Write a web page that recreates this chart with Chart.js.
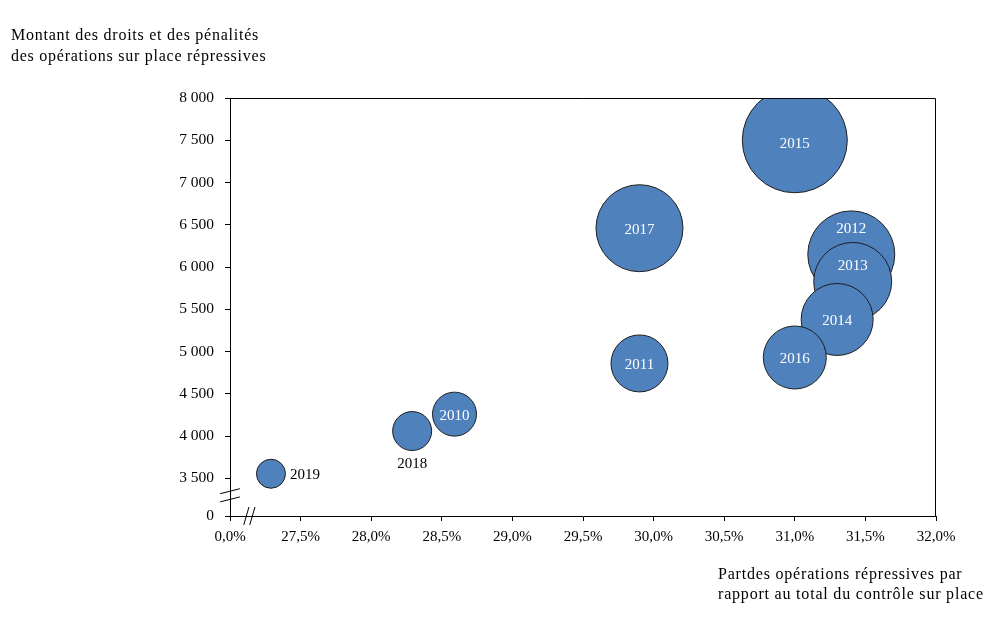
<!DOCTYPE html>
<html lang="fr">
<head>
<meta charset="utf-8">
<script src="https://cdn.jsdelivr.net/npm/chart.js@4.4.1/dist/chart.umd.min.js"></script>
<style>
  html, body { margin: 0; padding: 0; background: #fff; }
  #wrap { width: 1004px; height: 623px; position: relative; }
</style>
</head>
<body>
<div id="wrap"><canvas id="bubbleChart"></canvas></div>
<script>
// Bubble chart: part des opérations répressives vs montant des droits et pénalités

var years = [2010, 2011, 2012, 2013, 2014, 2015, 2016, 2017, 2018, 2019];
var partRepressive = [28.59, 29.9, 31.4, 31.41, 31.3, 31.0, 31.0, 29.9, 28.29, 27.29];
var montant = [4260, 4860, 6150, 5830, 5380, 7500, 4930, 6460, 4060, 3555];
var bubbleSize = [22, 28.5, 43.5, 39, 36, 52.5, 31.5, 43.5, 19.5, 14.5];

// axes are broken: the first tick stands for 0
var xTickValues = [27.0, 27.5, 28.0, 28.5, 29.0, 29.5, 30.0, 30.5, 31.0, 31.5, 32.0];
var xTickLabels = ["0,0%", "27,5%", "28,0%", "28,5%", "29,0%", "29,5%", "30,0%", "30,5%", "31,0%", "31,5%", "32,0%"];
var yTickValues = [3055, 3500, 4000, 4500, 5000, 5500, 6000, 6500, 7000, 7500, 8000];
var yTickLabels = ["0", "3 500", "4 000", "4 500", "5 000", "5 500", "6 000", "6 500", "7 000", "7 500", "8 000"];

var yTitle = ["Montant des droits et des pénalités", "des opérations sur place répressives"];
var xTitle = ["Partdes opérations répressives par", "rapport au total du contrôle sur place"];

var serif = '"Liberation Serif", "Times New Roman", serif';

// where each year label sits relative to its bubble
var labelPlacement = {
    2012: { dx: 0, dy: -25, color: "#fff", align: "center" },
    2013: { dx: 0, dy: -15, color: "#fff", align: "center" },
    2015: { dx: 0, dy: 4, color: "#fff", align: "center" },
    2018: { dx: 0, dy: 33, color: "#000", align: "center" },
    2019: { dx: 19, dy: 1.5, color: "#000", align: "left" }
};

var bubbleData = years.map(function (y, i) {
    return { x: partRepressive[i], y: montant[i], r: bubbleSize[i] };
});

var yearLabels = {
    id: "yearLabels",
    afterDatasetsDraw: function (chart) {
        var ctx = chart.ctx;
        var meta = chart.getDatasetMeta(0);
        ctx.save();
        ctx.font = "15px " + serif;
        ctx.textBaseline = "middle";
        meta.data.forEach(function (el, i) {
            var p = labelPlacement[years[i]] || { dx: 0, dy: 2, color: "#fff", align: "center" };
            ctx.fillStyle = p.color;
            ctx.textAlign = p.align;
            ctx.fillText(String(years[i]), el.x + p.dx, el.y + p.dy);
        });
        ctx.restore();
    }
};

var frameAndBreaks = {
    id: "frameAndBreaks",
    afterDraw: function (chart) {
        var ctx = chart.ctx;
        var a = chart.chartArea;
        var xs = chart.scales.x, ys = chart.scales.y;
        ctx.save();
        ctx.strokeStyle = "#000";
        ctx.lineWidth = 1;
        // top and right sides of the frame
        ctx.beginPath();
        ctx.moveTo(a.left, a.top + 0.5);
        ctx.lineTo(a.right - 0.5, a.top + 0.5);
        ctx.lineTo(a.right - 0.5, a.bottom);
        ctx.stroke();

        // break on the y axis
        var by = ys.getPixelForValue(3300);
        var bx = a.left;
        ctx.beginPath();
        [-4.1, 4.1].forEach(function (o) {
            ctx.moveTo(bx - 9.8, by + o + 2.5);
            ctx.lineTo(bx + 9.9, by + o - 2.5);
        });
        ctx.stroke();

        // break on the x axis
        var cx = xs.getPixelForValue(27.137);
        var cy = a.bottom;
        ctx.beginPath();
        [-3, 3].forEach(function (o) {
            ctx.moveTo(cx + o - 2.6, cy + 9);
            ctx.lineTo(cx + o + 2.6, cy - 9);
        });
        ctx.stroke();

        // axis titles
        ctx.fillStyle = "#000";
        ctx.font = "16px " + serif;
        ctx.letterSpacing = "0.75px";
        ctx.textAlign = "left";
        ctx.textBaseline = "alphabetic";
        ctx.fillText(yTitle[0], 11, 40);
        ctx.fillText(yTitle[1], 11, 61);
        ctx.letterSpacing = "0.8px";
        ctx.fillText(xTitle[0], 718, 579);
        ctx.fillText(xTitle[1], 718, 598.5);
        ctx.restore();
    }
};

new Chart("bubbleChart", {
    type: "bubble",
    data: {
        datasets: [{
            data: bubbleData,
            backgroundColor: "#4f81bd",
            borderColor: "#1e1e1e",
            borderWidth: 1,
            clip: 0
        }]
    },
    options: {
        responsive: true,
        maintainAspectRatio: false,
        animation: false,
        events: [],
        layout: { padding: { top: 98, right: 68, left: 0, bottom: 0 } },
        plugins: {
            legend: { display: false },
            tooltip: { enabled: false },
            title: { display: false }
        },
        scales: {
            x: {
                type: "linear",
                min: 27.0,
                max: 32.0,
                afterBuildTicks: function (scale) {
                    scale.ticks = xTickValues.map(function (v) { return { value: v }; });
                },
                afterFit: function (scale) { scale.height = 107; },
                grid: { drawOnChartArea: false, drawTicks: true, tickLength: 5, tickColor: "#000" },
                border: { color: "#000", width: 1 },
                ticks: {
                    autoSkip: false,
                    maxRotation: 0,
                    padding: 7,
                    color: "#000",
                    font: { family: serif, size: 15 },
                    callback: function (value, index) { return xTickLabels[index]; }
                }
            },
            y: {
                type: "linear",
                min: 3055,
                max: 8000,
                afterBuildTicks: function (scale) {
                    scale.ticks = yTickValues.map(function (v) { return { value: v }; });
                },
                afterFit: function (scale) { scale.width = 230; },
                grid: { drawOnChartArea: false, drawTicks: true, tickLength: 5, tickColor: "#000" },
                border: { color: "#000", width: 1 },
                ticks: {
                    autoSkip: false,
                    padding: 11,
                    color: "#000",
                    font: { family: serif, size: 15.5 },
                    callback: function (value, index) { return yTickLabels[index]; }
                }
            }
        }
    },
    plugins: [yearLabels, frameAndBreaks]
});
</script>
</body>
</html>
